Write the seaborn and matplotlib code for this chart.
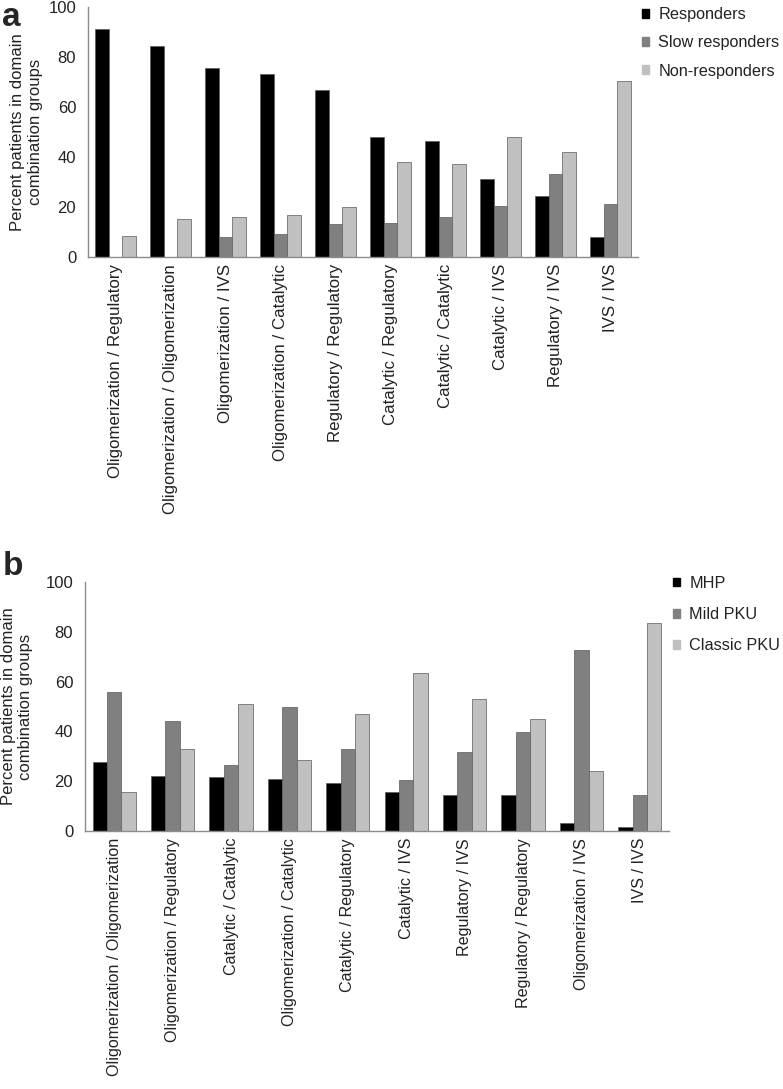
import numpy as np
import pandas as pd
import matplotlib
matplotlib.use('Agg')
from matplotlib import pyplot as plt
from matplotlib.patches import Patch
import seaborn as sns

# panel a: response to BH4 by domain combination
groups_a = ['Oligomerization / Regulatory', 'Oligomerization / Oligomerization',
            'Oligomerization / IVS', 'Oligomerization / Catalytic',
            'Regulatory / Regulatory', 'Catalytic / Regulatory',
            'Catalytic / Catalytic', 'Catalytic / IVS',
            'Regulatory / IVS', 'IVS / IVS']
responders = [91, 84.4, 75.7, 73.3, 66.7, 48.1, 46.4, 31.2, 24.5, 8.1]
slow_responders = [0, 0, 8.1, 9.2, 13.2, 13.5, 15.9, 20.4, 33.1, 21.2]
non_responders = [8.5, 15.2, 15.9, 16.8, 19.9, 37.9, 37.2, 48.1, 41.9, 70.4]
series_a = ['Responders', 'Slow responders', 'Non-responders']

# panel b: phenotype by domain combination
groups_b = ['Oligomerization / Oligomerization', 'Oligomerization / Regulatory',
            'Catalytic / Catalytic', 'Oligomerization / Catalytic',
            'Catalytic / Regulatory', 'Catalytic / IVS',
            'Regulatory / IVS', 'Regulatory / Regulatory',
            'Oligomerization / IVS', 'IVS / IVS']
mhp = [27.8, 22.0, 21.5, 20.9, 19.3, 15.5, 14.6, 14.6, 3.1, 1.6]
mild_pku = [55.8, 44.3, 26.4, 49.9, 33.0, 20.3, 31.7, 39.6, 72.5, 14.4]
classic_pku = [15.7, 33.0, 51.1, 28.7, 47.1, 63.4, 53.0, 45.1, 23.9, 83.5]
series_b = ['MHP', 'Mild PKU', 'Classic PKU']

colors = ['#000000', '#808080', '#c0c0c0']

df_a = pd.DataFrame({
    'group': groups_a * 3,
    'value': responders + slow_responders + non_responders,
    'series': sum([[s] * len(groups_a) for s in series_a], []),
})
df_b = pd.DataFrame({
    'group': groups_b * 3,
    'value': mhp + mild_pku + classic_pku,
    'series': sum([[s] * len(groups_b) for s in series_b], []),
})

sns.set_style('white')
plt.rcParams['font.family'] = ['Liberation Sans', 'DejaVu Sans']

fig = plt.figure(figsize=(7.83, 10.89), dpi=100)
ax_a = fig.add_axes([0.1124, 0.764, 0.7024, 0.2296])
ax_b = fig.add_axes([0.1086, 0.2369, 0.7458, 0.2287])


def draw(ax, df, groups, series, tick_fs, labelpad, leg_x, leg_y, leg_space):
    sns.barplot(data=df, x='group', y='value', hue='series', order=groups,
                hue_order=series, palette=colors, width=0.74, ax=ax,
                edgecolor='#5a5a5a', linewidth=0.5, legend=False)
    ax.set_xlim(-0.5, len(groups) - 0.5)
    ax.set_ylim(0, 100)
    ax.set_yticks(range(0, 101, 20))
    ax.set_xlabel('')
    ax.set_ylabel('Percent patients in domain\ncombination groups',
                  fontsize=12, labelpad=labelpad, color='#222222')
    for s in ['top', 'right']:
        ax.spines[s].set_visible(False)
    for s in ['left', 'bottom']:
        ax.spines[s].set_color('#8c8c8c')
        ax.spines[s].set_linewidth(1.0)
    ax.set_xticks(range(len(groups)))
    ax.set_xticklabels(groups, rotation=90, fontsize=tick_fs)
    ax.set_xticks(np.arange(-0.5, len(groups), 1), minor=True)
    ax.tick_params(axis='x', which='major', length=0, pad=5, colors='#222222')
    ax.tick_params(axis='x', which='minor', length=4, width=1, color='#8c8c8c',
                   direction='out')
    ax.tick_params(axis='y', length=5, width=1, color='#8c8c8c', direction='out',
                   labelsize=12, labelcolor='#222222')
    handles = [Patch(facecolor=c, edgecolor=c, label=s) for c, s in zip(colors, series)]
    ax.legend(handles=handles, loc='upper left', bbox_to_anchor=(leg_x, leg_y),
              frameon=False, fontsize=11.7, handlelength=0.45, handleheight=0.45,
              handletextpad=0.55, labelspacing=leg_space, borderpad=0,
              borderaxespad=0, labelcolor='#222222')


draw(ax_a, df_a, groups_a, series_a, 12.2, 4, 1.0075, 1.0, 0.82)
draw(ax_b, df_b, groups_b, series_b, 11.6, 9, 1.007, 1.025, 1.0)

fig.text(0.003, 0.998, 'a', fontsize=24, fontweight='bold', va='top', ha='left')
fig.text(0.003, 0.494, 'b', fontsize=24, fontweight='bold', va='top', ha='left')

fig.savefig('out.png', dpi=100)
